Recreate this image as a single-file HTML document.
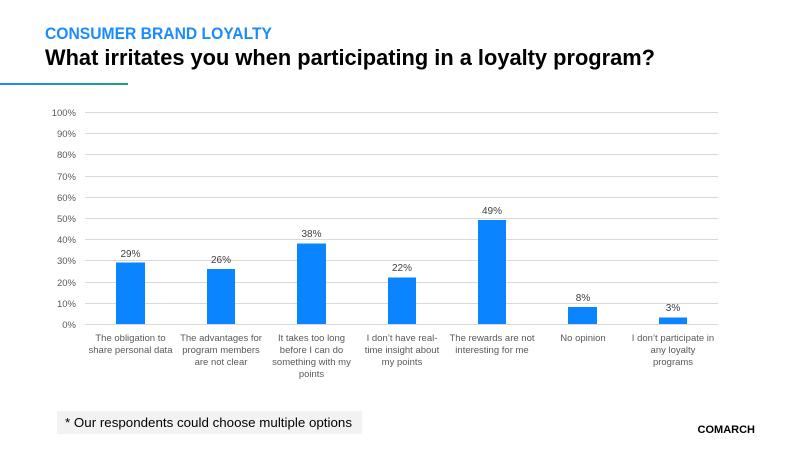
<!DOCTYPE html>
<html><head><meta charset="utf-8"><style>
html,body{margin:0;padding:0;background:#fff;}
body{width:800px;height:450px;position:relative;overflow:hidden;font-family:"Liberation Sans",sans-serif;}
</style></head><body>
<svg width="800" height="450" xmlns="http://www.w3.org/2000/svg" font-family="Liberation Sans, sans-serif">
<text x="45" y="39" font-size="16.5" font-weight="bold" fill="#1a8cff" textLength="227" lengthAdjust="spacingAndGlyphs">CONSUMER BRAND LOYALTY</text>
<text x="45" y="65" font-size="22" font-weight="bold" fill="#000" textLength="610" lengthAdjust="spacingAndGlyphs">What irritates you when participating in a loyalty program?</text>
<defs><linearGradient id="g" x1="0" x2="1"><stop offset="0" stop-color="#1a8cff"/><stop offset="1" stop-color="#1aa37a"/></linearGradient></defs>
<rect x="0" y="83" width="128" height="2" fill="url(#g)"/>
<g stroke="#d9d9d9" stroke-width="1">
<line x1="85" x2="718" y1="112.5" y2="112.5"/><line x1="85" x2="718" y1="133.5" y2="133.5"/>
<line x1="85" x2="718" y1="154.5" y2="154.5"/><line x1="85" x2="718" y1="176.5" y2="176.5"/>
<line x1="85" x2="718" y1="197.5" y2="197.5"/><line x1="85" x2="718" y1="218.5" y2="218.5"/>
<line x1="85" x2="718" y1="239.5" y2="239.5"/><line x1="85" x2="718" y1="260.5" y2="260.5"/>
<line x1="85" x2="718" y1="282.5" y2="282.5"/><line x1="85" x2="718" y1="303.5" y2="303.5"/>
<line x1="85" x2="718" y1="324.5" y2="324.5"/>
</g>
<g font-size="9.5" fill="#595959" text-anchor="end">
<text x="76" y="116">100%</text><text x="76" y="137">90%</text><text x="76" y="158">80%</text>
<text x="76" y="180">70%</text><text x="76" y="201">60%</text><text x="76" y="222">50%</text>
<text x="76" y="243">40%</text><text x="76" y="264">30%</text><text x="76" y="286">20%</text>
<text x="76" y="307">10%</text><text x="76" y="328">0%</text>
</g>
<g fill="#0a84ff">
<rect x="116" y="262.5" width="29" height="61.5"/>
<rect x="207" y="269" width="28" height="55"/>
<rect x="297" y="243.5" width="29" height="80.5"/>
<rect x="388" y="277.5" width="28" height="46.5"/>
<rect x="478" y="220" width="28" height="104"/>
<rect x="568" y="307" width="29" height="17"/>
<rect x="659" y="317.5" width="28" height="6.5"/>
</g>
<g font-size="10" fill="#404040" text-anchor="middle">
<text x="130.5" y="257">29%</text><text x="221" y="263">26%</text><text x="311.5" y="237">38%</text>
<text x="402" y="271">22%</text><text x="492" y="214">49%</text><text x="583" y="301">8%</text><text x="673" y="311">3%</text>
</g>
<g font-size="9.5" fill="#595959" text-anchor="middle">
<text x="130.5" y="341">The obligation to</text><text x="130.5" y="353">share personal data</text>
<text x="221" y="341">The advantages for</text><text x="221" y="353">program members</text><text x="221" y="365">are not clear</text>
<text x="311.5" y="341">It takes too long</text><text x="311.5" y="353">before I can do</text><text x="311.5" y="365">something with my</text><text x="311.5" y="377">points</text>
<text x="402" y="341">I don’t have real-</text><text x="402" y="353">time insight about</text><text x="402" y="365">my points</text>
<text x="492" y="341">The rewards are not</text><text x="492" y="353">interesting for me</text>
<text x="583" y="341">No opinion</text>
<text x="673" y="341">I don’t participate  in</text><text x="673" y="353">any loyalty</text><text x="673" y="365">programs</text>
</g>
<rect x="57" y="411" width="305" height="23" fill="#f2f2f2"/>
<text x="65" y="427" font-size="12.5" fill="#000" textLength="287" lengthAdjust="spacingAndGlyphs">* Our respondents  could choose multiple options</text>
<text x="755" y="433" font-size="11" font-weight="bold" fill="#000" text-anchor="end">COMARCH</text>
</svg>
</body></html>
